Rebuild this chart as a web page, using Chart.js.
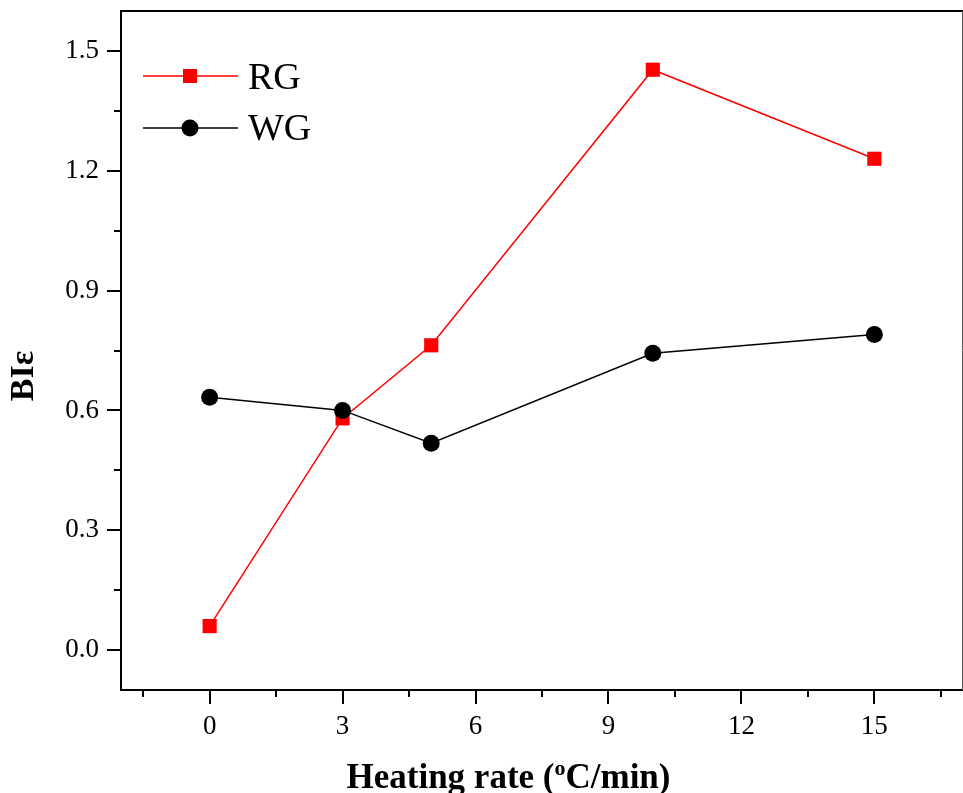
<!DOCTYPE html>
<html>
<head>
<meta charset="utf-8">
<script src="https://cdn.jsdelivr.net/npm/chart.js@4/dist/chart.umd.min.js"></script>
<style>
  html, body { margin: 0; padding: 0; background: #ffffff; }
  canvas { display: block; }
</style>
</head>
<body>
<canvas id="c" width="963" height="793"></canvas>
<script>
// ---- data ----
const categories = [0, 3, 5, 10, 15];
const rgValues = [0.06, 0.58, 0.763, 1.453, 1.23];
const wgValues = [0.633, 0.60, 0.518, 0.743, 0.79];
const seriesLabels = ['RG', 'WG'];
const xTickValues = [-1.5, 0, 1.5, 3, 4.5, 6, 7.5, 9, 10.5, 12, 13.5, 15, 16.5];
const xTickLabels = ['', '0', '', '3', '', '6', '', '9', '', '12', '', '15', ''];
const yTickValues = [0, 0.15, 0.3, 0.45, 0.6, 0.75, 0.9, 1.05, 1.2, 1.35, 1.5];
const yTickLabels = ['0.0', '', '0.3', '', '0.6', '', '0.9', '', '1.2', '', '1.5'];
const xTitleParts = ['Heating rate (', 'o', 'C/min)'];
const yTitle = 'BI\u03b5';

const SERIF = '"Liberation Serif", "Times New Roman", serif';

function toPoints(xs, ys) { return xs.map((x, i) => ({ x: x, y: ys[i] })); }

const decorPlugin = {
  id: 'decor',
  afterDraw(chart) {
    const ctx = chart.ctx;
    const a = chart.chartArea;
    const xs = chart.scales.x, ys = chart.scales.y;
    ctx.save();
    // frame top & right
    ctx.strokeStyle = '#000';
    ctx.lineWidth = 2;
    ctx.beginPath();
    ctx.moveTo(a.left - 1, a.top);
    ctx.lineTo(a.right, a.top);
    ctx.stroke();
    ctx.strokeStyle = '#555';
    ctx.lineWidth = 1;
    ctx.beginPath();
    ctx.moveTo(a.right - 0.5, a.top);
    ctx.lineTo(a.right - 0.5, a.bottom);
    ctx.stroke();
    // ticks
    ctx.strokeStyle = '#000';
    ctx.lineWidth = 2;
    xTickValues.forEach((v, i) => {
      const px = Math.round(xs.getPixelForValue(v));
      const len = xTickLabels[i] ? 14 : 7;
      ctx.beginPath();
      ctx.moveTo(px, a.bottom);
      ctx.lineTo(px, a.bottom + len);
      ctx.stroke();
    });
    yTickValues.forEach((v, i) => {
      const py = Math.round(ys.getPixelForValue(v));
      const len = yTickLabels[i] ? 14 : 7;
      ctx.beginPath();
      ctx.moveTo(a.left, py);
      ctx.lineTo(a.left - len, py);
      ctx.stroke();
    });
    // legend
    const lineYs = [76, 128];
    const baseYs = [89, 140];
    chart.data.datasets.forEach((ds, i) => {
      const y = lineYs[i];
      ctx.strokeStyle = ds.borderColor;
      ctx.lineWidth = 1.5;
      ctx.beginPath();
      ctx.moveTo(143, y);
      ctx.lineTo(238, y);
      ctx.stroke();
      ctx.fillStyle = ds.pointBackgroundColor;
      if (ds.pointStyle === 'rect') {
        ctx.fillRect(190 - 7, y - 7, 14, 14);
      } else {
        ctx.beginPath();
        ctx.arc(190, y, 8.5, 0, Math.PI * 2);
        ctx.fill();
      }
      ctx.fillStyle = '#000';
      ctx.font = '38px ' + SERIF;
      ctx.textAlign = 'left';
      ctx.textBaseline = 'alphabetic';
      ctx.fillText(ds.label, 248, baseYs[i]);
    });
    // x title with superscript
    const bigFont = 'bold 35px ' + SERIF;
    const smallFont = 'bold 22px ' + SERIF;
    ctx.font = bigFont;
    const w0 = ctx.measureText(xTitleParts[0]).width;
    const w2 = ctx.measureText(xTitleParts[2]).width;
    ctx.font = smallFont;
    const w1 = ctx.measureText(xTitleParts[1]).width;
    const total = w0 + w1 + w2;
    let x = 508.5 - total / 2;
    const base = 788;
    ctx.fillStyle = '#000';
    ctx.textAlign = 'left';
    ctx.textBaseline = 'alphabetic';
    ctx.font = bigFont;
    ctx.fillText(xTitleParts[0], x, base);
    x += w0;
    ctx.font = smallFont;
    ctx.fillText(xTitleParts[1], x, base - 13);
    x += w1;
    ctx.font = bigFont;
    ctx.fillText(xTitleParts[2], x, base);
    // y title
    ctx.translate(24, 376);
    ctx.rotate(-Math.PI / 2);
    ctx.font = 'bold 34px ' + SERIF;
    ctx.textAlign = 'center';
    ctx.textBaseline = 'middle';
    ctx.fillText(yTitle, 0, 0);
    ctx.restore();
  }
};

new Chart(document.getElementById('c'), {
  type: 'line',
  data: {
    datasets: [
      {
        label: seriesLabels[0],
        data: toPoints(categories, rgValues),
        borderColor: '#ff0000',
        backgroundColor: '#ff0000',
        pointBackgroundColor: '#ff0000',
        pointBorderColor: '#ff0000',
        pointStyle: 'rect',
        pointRadius: 10,
        pointBorderWidth: 0,
        borderWidth: 1.5,
        tension: 0,
        clip: false,
        order: 2
      },
      {
        label: seriesLabels[1],
        data: toPoints(categories, wgValues),
        borderColor: '#000000',
        backgroundColor: '#000000',
        pointBackgroundColor: '#000000',
        pointBorderColor: '#000000',
        pointStyle: 'circle',
        pointRadius: 8.5,
        pointBorderWidth: 0,
        borderWidth: 1.5,
        tension: 0,
        clip: false,
        order: 1
      }
    ]
  },
  options: {
    responsive: false,
    animation: false,
    devicePixelRatio: 1,
    layout: { autoPadding: false, padding: { left: 0, right: 0, top: 11, bottom: 0 } },
    plugins: { legend: { display: false }, tooltip: { enabled: false }, title: { display: false } },
    scales: {
      x: {
        type: 'linear',
        min: -2,
        max: 17,
        afterFit(s) { s.height = 103; s.paddingLeft = 0; s.paddingRight = 0; },
        afterBuildTicks(s) { s.ticks = xTickValues.map(v => ({ value: v })); },
        border: { display: true, color: '#000', width: 2 },
        grid: { display: true, drawOnChartArea: false, drawTicks: true, tickLength: 14, tickColor: 'rgba(0,0,0,0)', color: 'rgba(0,0,0,0)' },
        ticks: {
          autoSkip: false,
          maxRotation: 0,
          padding: 7,
          color: '#000',
          font: { family: SERIF, size: 27 },
          callback(v, i) { return xTickLabels[i]; }
        }
      },
      y: {
        type: 'linear',
        min: -0.1,
        max: 1.6,
        afterFit(s) { s.width = 121; s.paddingTop = 0; s.paddingBottom = 0; },
        afterBuildTicks(s) { s.ticks = yTickValues.map(v => ({ value: v })); },
        border: { display: true, color: '#000', width: 2 },
        grid: { display: true, drawOnChartArea: false, drawTicks: true, tickLength: 14, tickColor: 'rgba(0,0,0,0)', color: 'rgba(0,0,0,0)' },
        ticks: {
          autoSkip: false,
          padding: 8,
          color: '#000',
          font: { family: SERIF, size: 27 },
          callback(v, i) { return yTickLabels[i]; }
        }
      }
    }
  },
  plugins: [decorPlugin]
});
</script>
</body>
</html>
